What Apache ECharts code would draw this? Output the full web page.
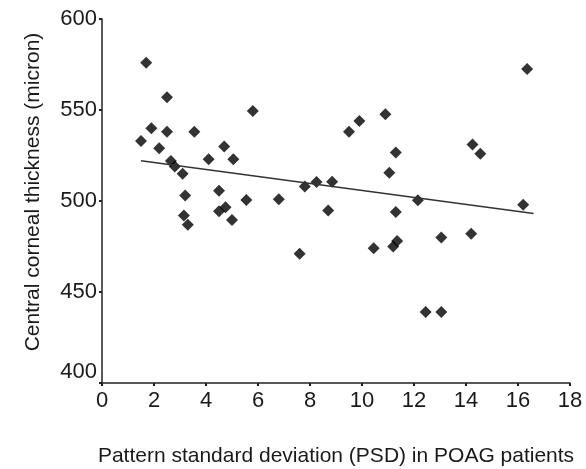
<!DOCTYPE html>
<html>
<head>
<meta charset="utf-8">
<script src="https://cdn.jsdelivr.net/npm/echarts@6/dist/echarts.min.js"></script>
<style>
html,body{margin:0;padding:0;background:#fff;}
#chart{width:586px;height:469px;}
</style>
</head>
<body>
<div id="chart"></div>
<script>
// PSD values (x) and central corneal thickness (y)
var psd = [1.5, 1.7, 1.9, 2.2, 2.5, 2.5, 2.65, 2.8, 3.1, 3.2, 3.15, 3.3, 3.55, 4.1, 4.5, 4.5, 4.7, 4.75, 5.0, 5.05, 5.55, 5.8, 6.8, 7.6, 7.8, 8.25, 8.7, 8.85, 9.5, 9.9, 10.45, 10.9, 11.05, 11.2, 11.3, 11.3, 11.35, 12.15, 12.45, 13.05, 13.05, 14.2, 14.25, 14.55, 16.2, 16.35];
var cct = [533, 576, 540, 529, 557, 538, 522, 519, 515, 503, 492, 487, 538, 523, 505.6, 494.4, 530, 496.6, 489.6, 523, 500.5, 549.5, 501, 471, 508, 510.5, 494.8, 510.6, 538, 544, 474, 547.7, 515.5, 475, 494, 526.7, 478, 500.4, 439, 480, 439, 482, 531, 526, 498, 572.5];
// Fitted trend line end points
var trendX = [1.5, 16.6];
var trendY = [522.1, 493.1];
var xTicks = [0, 18, 2];
var yTicks = [400, 600, 50];

var points = psd.map(function (v, i) { return [v, cct[i]]; });
var trend = trendX.map(function (v, i) { return [v, trendY[i]]; });

var chart = echarts.init(document.getElementById('chart'));
var font = 'Liberation Sans, Arial, sans-serif';
chart.setOption({
  animation: false,
  backgroundColor: '#ffffff',
  grid: { left: 102, right: 16, top: 19, bottom: 86, outerBoundsMode: 'none' },
  xAxis: {
    type: 'value', min: xTicks[0], max: xTicks[1], interval: xTicks[2],
    name: 'Pattern standard deviation (PSD) in POAG patients',
    nameLocation: 'middle', nameGap: 63,
    nameTextStyle: { fontFamily: font, fontSize: 21, color: '#1a1a1a' },
    axisLine: { lineStyle: { color: '#222', width: 1.5 } },
    axisTick: { show: true, length: 3, lineStyle: { color: '#222', width: 2 } },
    axisLabel: { fontFamily: font, fontSize: 22, color: '#1a1a1a', margin: 7 },
    splitLine: { show: false }
  },
  yAxis: {
    type: 'value', min: yTicks[0], max: yTicks[1], interval: yTicks[2],
    name: 'Central corneal thickness (micron)',
    nameLocation: 'middle', nameGap: 58,
    nameTextStyle: { fontFamily: font, fontSize: 21, color: '#1a1a1a', padding: [0, 0, 0, 18] },
    axisLine: { show: true, lineStyle: { color: '#222', width: 1.5 } },
    axisTick: { show: true, length: 3, lineStyle: { color: '#222', width: 2 } },
    axisLabel: { fontFamily: font, fontSize: 22, color: '#1a1a1a', margin: 5, verticalAlignMinLabel: 'bottom' },
    splitLine: { show: false }
  },
  series: [
    {
      type: 'scatter', data: points, symbol: 'diamond', symbolSize: 12,
      itemStyle: { color: '#000' }
    },
    {
      type: 'line', data: trend, symbol: 'none',
      lineStyle: { color: '#333', width: 1.5 }
    }
  ]
});
</script>
</body>
</html>
